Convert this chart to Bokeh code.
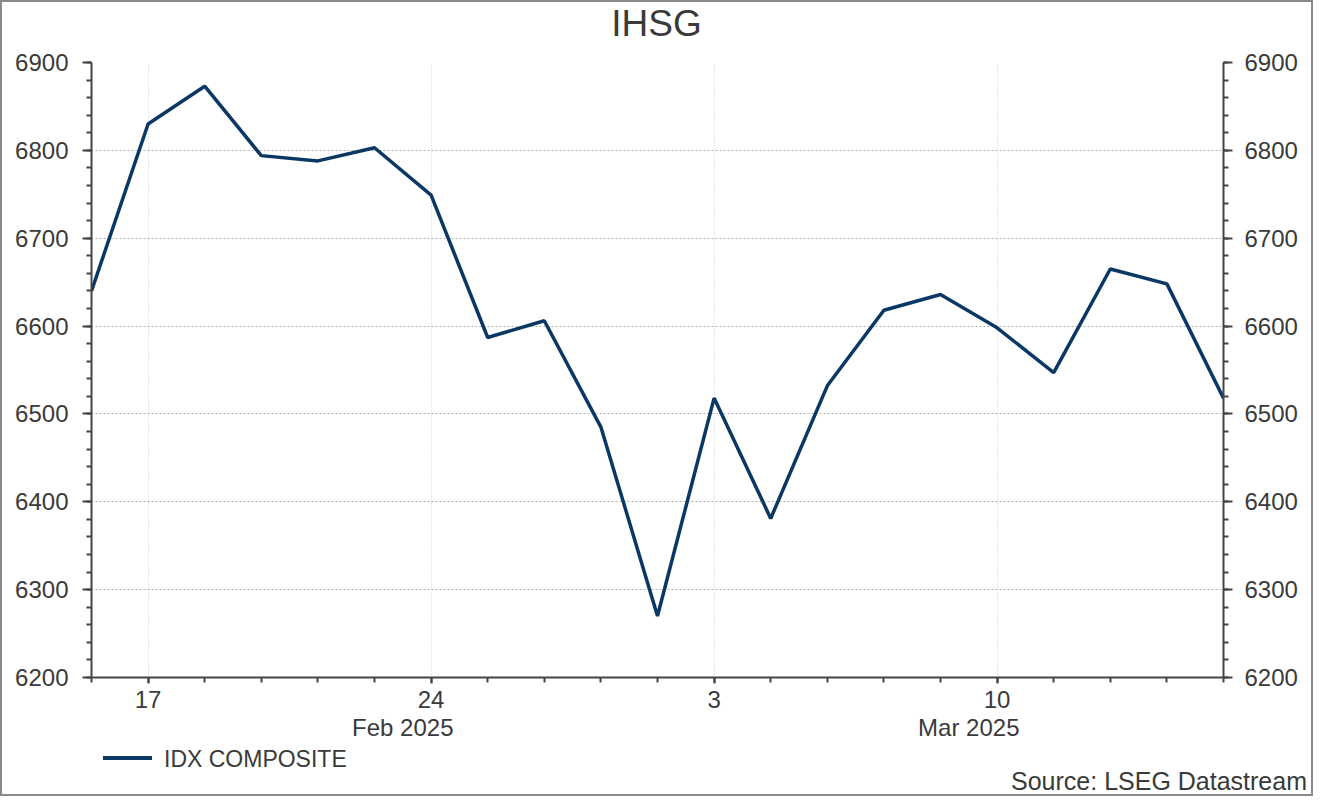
import pandas as pd
from bokeh.plotting import figure
from bokeh.layouts import column
from bokeh.models import FixedTicker, LinearAxis, Div
from bokeh.embed import file_html
from bokeh.resources import INLINE

# ---- data ----
dates = ["2025-02-14", "2025-02-17", "2025-02-18", "2025-02-19", "2025-02-20",
         "2025-02-21", "2025-02-24", "2025-02-25", "2025-02-26", "2025-02-27",
         "2025-02-28", "2025-03-03", "2025-03-04", "2025-03-05", "2025-03-06",
         "2025-03-07", "2025-03-10", "2025-03-11", "2025-03-12", "2025-03-13",
         "2025-03-14"]
idx_composite = [6640, 6830, 6873, 6794, 6788, 6803, 6749, 6587, 6606, 6485,
                 6270, 6518, 6381, 6532, 6618, 6636, 6598, 6547, 6665, 6648,
                 6518]
y_ticks = [6200, 6300, 6400, 6500, 6600, 6700, 6800, 6900]
month_labels = ["Feb 2025", "Mar 2025"]
series_name = "IDX COMPOSITE"
title_text = "IHSG"
source_text = "Source: LSEG Datastream"

dt = pd.to_datetime(dates)
x = list(range(len(dates)))
mondays = [i for i, d in enumerate(dt) if d.dayofweek == 0]
monday_labels = {i: str(dt[i].day) for i in mondays}
# month labels sit between the Friday and the Monday of the 2nd and 4th week
month_pos = [mondays[1] - 0.5, mondays[3] - 0.5]

FONT = "Liberation Sans"
TXT = "#3a3a3a"
AX = "#444444"
LINE = "#0b3764"
W = 1309
H_HEAD = 46
H_MAIN = 700
H_FOOT = 46

# ---- header (title) ----
header = Div(
    text=(f'<div style="position:relative;width:{W}px;height:{H_HEAD}px;">'
          f'<div style="position:absolute;left:0;top:3px;width:{W}px;text-align:center;'
          f"font-family:'{FONT}';font-size:37px;line-height:1;color:{TXT};"
          f'white-space:nowrap">{title_text}</div></div>'),
    width=W, height=H_HEAD, margin=0)

# ---- main chart ----
p = figure(width=W, height=H_MAIN, x_range=(0, len(x) - 1), y_range=(6200, 6900),
           output_backend="svg", toolbar_location=None, title=None,
           min_border_left=89, min_border_right=88, min_border_top=14,
           min_border_bottom=71, outline_line_color=None,
           background_fill_color="white", border_fill_color="white")

xa = p.below[0]
yl = p.left[0]

r = p.line(x, idx_composite, line_color=LINE, line_width=3.5)

yticker = FixedTicker(ticks=y_ticks, minor_ticks=list(range(6200, 6901, 20)))
xticker = FixedTicker(ticks=mondays, minor_ticks=x)

yl.ticker = yticker
yr = LinearAxis(ticker=yticker)
p.add_layout(yr, "right")
for ax, standoff in ((yl, 14), (yr, 12)):
    ax.axis_line_color = AX
    ax.axis_line_width = 2
    ax.major_tick_line_color = AX
    ax.major_tick_line_width = 2
    ax.minor_tick_line_color = AX
    ax.minor_tick_line_width = 2
    ax.major_tick_in = 0
    ax.major_tick_out = 9
    ax.minor_tick_in = 0
    ax.minor_tick_out = 5
    ax.major_label_standoff = standoff
    ax.major_label_text_font = FONT
    ax.major_label_text_font_size = "24px"
    ax.major_label_text_color = TXT

xa.ticker = xticker
xa.major_label_overrides = monday_labels
xa.axis_line_color = AX
xa.axis_line_width = 2
xa.major_tick_line_color = AX
xa.major_tick_line_width = 2
xa.minor_tick_line_color = AX
xa.minor_tick_line_width = 2
xa.major_tick_in = 0
xa.major_tick_out = 6
xa.minor_tick_in = 0
xa.minor_tick_out = 5
xa.major_label_standoff = 7
xa.major_label_text_font = FONT
xa.major_label_text_font_size = "24px"
xa.major_label_text_color = TXT

# month axis (second row of x labels)
ma = LinearAxis(ticker=FixedTicker(ticks=month_pos, minor_ticks=[]),
                major_label_overrides={m: t for m, t in zip(month_pos, month_labels)})
ma.axis_line_color = None
ma.major_tick_line_color = None
ma.minor_tick_line_color = None
ma.major_tick_in = 0
ma.major_tick_out = 0
ma.major_label_standoff = 3
ma.major_label_text_font = FONT
ma.major_label_text_font_size = "24px"
ma.major_label_text_color = TXT
p.add_layout(ma, "below")

p.ygrid.ticker = yticker
p.ygrid.grid_line_color = "#b0b0b0"
p.ygrid.grid_line_dash = "2 2"
p.ygrid.grid_line_width = 1
p.xgrid.ticker = FixedTicker(ticks=mondays)
p.xgrid.grid_line_color = "#cccccc"
p.xgrid.grid_line_dash = "1 2"
p.xgrid.grid_line_width = 1

# ---- footer: legend and source note ----
footer = Div(
    text=(f'<div style="position:relative;width:{W}px;height:{H_FOOT}px;'
          f"font-family:'{FONT}';color:{TXT};line-height:1;\">"
          f'<div style="position:absolute;left:101px;top:8px;width:49px;height:3.5px;'
          f'background:{LINE}"></div>'
          f'<div style="position:absolute;left:162px;top:0px;font-size:23px;'
          f'white-space:nowrap">{series_name}</div>'
          f'<div style="position:absolute;right:4px;top:21px;font-size:25px;'
          f'white-space:nowrap">{source_text}</div></div>'),
    width=W, height=H_FOOT, margin=0)

layout = column(header, p, footer, spacing=0)
layout.styles = {"border": "2px solid #8a8a8a", "background-color": "white"}

open("out.html", "w").write(file_html(layout, INLINE))
